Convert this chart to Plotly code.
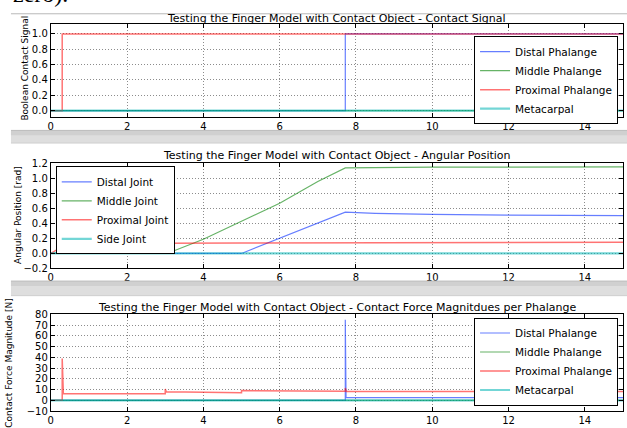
import plotly.graph_objects as go

W, H = 627, 428

# ---------------- data ----------------
# Plot 1: contact signal
sig_distal_t = [0, 7.72, 7.72, 15]
sig_distal = [0, 0, 1, 1]
sig_middle_t = [0, 15]
sig_middle = [0, 0]
sig_prox_t = [0, 0.3, 0.3, 15]
sig_prox = [0, 0, 1, 1]
sig_meta_t = [0, 15]
sig_meta = [0, 0]

# Plot 2: angular position
ang_distal_t = [0, 5.0, 7.72, 8.5, 10, 12, 15]
ang_distal = [0, 0, 0.55, 0.535, 0.52, 0.51, 0.505]
ang_middle_t = [0, 3.05, 4, 5, 6, 7, 7.72, 10, 15]
ang_middle = [0, 0, 0.19, 0.43, 0.67, 0.96, 1.14, 1.15, 1.155]
ang_prox_t = [0, 0.3, 0.6, 1, 2, 3, 5, 7.7, 15]
ang_prox = [0, 0.09, 0.11, 0.12, 0.125, 0.135, 0.14, 0.145, 0.15]
ang_side_t = [0, 15]
ang_side = [0, 0]

# Plot 3: contact force magnitudes
f_distal_t = [0, 7.72, 7.72, 7.74, 15]
f_distal = [0, 0, 75, 2.5, 2.5]
f_middle_t = [0, 15]
f_middle = [0, 0]
f_prox_t = [0, 0.3, 0.3, 0.33, 3.0, 3.0, 3.03, 5.0, 5.0, 7.72, 7.72, 7.75, 15]
f_prox = [0, 0, 39, 6, 6, 10.5, 8, 7, 9, 8.4, 11.5, 8.2, 8.2]
f_meta_t = [0, 15]
f_meta = [0, 0]

titles = [
    "Testing the Finger Model with Contact Object - Contact Signal",
    "Testing the Finger Model with Contact Object - Angular Position",
    "Testing the Finger Model with Contact Object - Contact Force Magnitdues per Phalange",
]
ylabels = ["Boolean Contact Signal", "Angular Position [rad]", "Contact Force Magnitude [N]"]
phalange_names = ["Distal Phalange", "Middle Phalange", "Proximal Phalange", "Metacarpal"]
joint_names = ["Distal Joint", "Middle Joint", "Proximal Joint", "Side Joint"]
x_ticks = [0, 2, 4, 6, 8, 10, 12, 14]

# ---------------- style ----------------
COLS = ["rgba(0,40,255,0.6)", "rgba(0,128,0,0.6)", "rgba(255,0,0,0.55)", "rgba(0,180,180,0.55)"]
WIDTHS = [1.2, 1.2, 1.5, 2.2]
FONT = "DejaVu Sans"

def px(p):
    return p / W

def py(p):
    return 1 - p / H

fig = go.Figure()

def add_series(ts, ys, names, ax, leg):
    for i, (t, y, n) in enumerate(zip(ts, ys, names)):
        fig.add_trace(go.Scatter(
            x=t, y=y, name=n, mode="lines",
            line=dict(color=COLS[i], width=WIDTHS[i]),
            xaxis="x" + ax, yaxis="y" + ax, legend=leg, showlegend=True,
        ))

add_series([sig_distal_t, sig_middle_t, sig_prox_t, sig_meta_t],
           [sig_distal, sig_middle, sig_prox, sig_meta], phalange_names, "", "legend")
add_series([ang_distal_t, ang_middle_t, ang_prox_t, ang_side_t],
           [ang_distal, ang_middle, ang_prox, ang_side], joint_names, "2", "legend2")
add_series([f_distal_t, f_middle_t, f_prox_t, f_meta_t],
           [f_distal, f_middle, f_prox, f_meta], phalange_names, "3", "legend3")

x_dom = [px(48), px(623)]
# (top px, bottom px) for each panel
panels = [(18.5, 114), (162, 270), (317.3, 416.7)]
yranges = [[-0.08, 1.13], [-0.2, 1.2], [-10, 80]]
ytickvals = [[0, 0.2, 0.4, 0.6, 0.8, 1.0],
             [-0.2, 0, 0.2, 0.4, 0.6, 0.8, 1.0, 1.2],
             [-10, 0, 10, 20, 30, 40, 50, 60, 70, 80]]
yfmts = [".1f", ".1f", "d"]

axis_common = dict(
    showline=True, linecolor="black", linewidth=1, mirror="ticks",
    ticks="inside", ticklen=4, tickcolor="black",
    showgrid=True, gridcolor="rgba(0,0,0,0.45)", griddash="1px,2px", gridwidth=1,
    zeroline=False, tickfont=dict(family=FONT, size=10, color="black"),
)

layout = dict(
    width=W, height=H, margin=dict(l=0, r=0, t=0, b=0),
    paper_bgcolor="white", plot_bgcolor="white",
    font=dict(family=FONT, color="black"),
)
for k, ((top, bot), yr, tv, fmt) in enumerate(zip(panels, yranges, ytickvals, yfmts)):
    suf = "" if k == 0 else str(k + 1)
    layout["xaxis" + suf] = dict(domain=x_dom, range=[0, 15], tickvals=x_ticks,
                                 anchor="y" + suf, **axis_common)
    layout["yaxis" + suf] = dict(domain=[py(bot), py(top)], range=yr, tickvals=tv,
                                 tickformat=fmt, anchor="x" + suf, **axis_common)

leg_common = dict(bordercolor="black", borderwidth=1, bgcolor="white",
                  font=dict(family=FONT, size=10.5, color="black"),
                  tracegroupgap=0, itemwidth=30)
layout["legend"] = dict(x=px(618), xanchor="right", y=py(31), yanchor="top", **leg_common)
layout["legend2"] = dict(x=px(53), xanchor="left", y=py(165), yanchor="top", **leg_common)
layout["legend3"] = dict(x=px(618), xanchor="right", y=py(320.5), yanchor="top", **leg_common)

fig.update_layout(**layout)

# titles and y labels
title_y = [13, 154, 310]
ylab_x = [22.5, 15, 6]
ylab_y = [64, 215, 367]
for k in range(3):
    fig.add_annotation(text=titles[k], xref="paper", yref="paper",
                       x=px(335.5), y=py(title_y[k]), xanchor="center", yanchor="middle",
                       showarrow=False, font=dict(family=FONT, size=11, color="black"))
    fig.add_annotation(text=ylabels[k], xref="paper", yref="paper",
                       x=px(ylab_x[k]), y=py(ylab_y[k]), xanchor="center", yanchor="middle",
                       textangle=-90, showarrow=False,
                       font=dict(family=FONT, size=9, color="black"))

# document text fragment at the top (mostly scrolled out of view in the reference)
fig.add_annotation(text="zero).", xref="paper", yref="paper", x=px(8), y=py(3),
                   xanchor="left", yanchor="bottom", showarrow=False,
                   font=dict(family="Liberation Serif", size=24, color="black"))

# page separators
shapes = []
shapes.append(dict(type="line", xref="paper", yref="paper", x0=px(8), x1=1,
                   y0=py(8), y1=py(8), line=dict(color="#b8b8b8", width=1)))
for (t, b) in [(128, 141), (283, 298)]:
    shapes.append(dict(type="rect", xref="paper", yref="paper", x0=px(8), x1=1,
                       y0=py(b), y1=py(t), fillcolor="#dedede", line=dict(width=0),
                       layer="above"))
    shapes.append(dict(type="rect", xref="paper", yref="paper", x0=px(8), x1=1,
                       y0=py(t + 5), y1=py(t), fillcolor="#d0d0d0", line=dict(width=0),
                       layer="above"))
    shapes.append(dict(type="line", xref="paper", yref="paper", x0=px(8), x1=1,
                       y0=py(t), y1=py(t), line=dict(color="#bcbcbc", width=1), layer="above"))
    shapes.append(dict(type="line", xref="paper", yref="paper", x0=px(8), x1=1,
                       y0=py(b), y1=py(b), line=dict(color="#cfcfcf", width=1), layer="above"))
fig.update_layout(shapes=shapes)

fig.write_html("out.html", config={"displayModeBar": False},
               post_script="document.body.style.margin='0';document.body.style.overflow='hidden';")
